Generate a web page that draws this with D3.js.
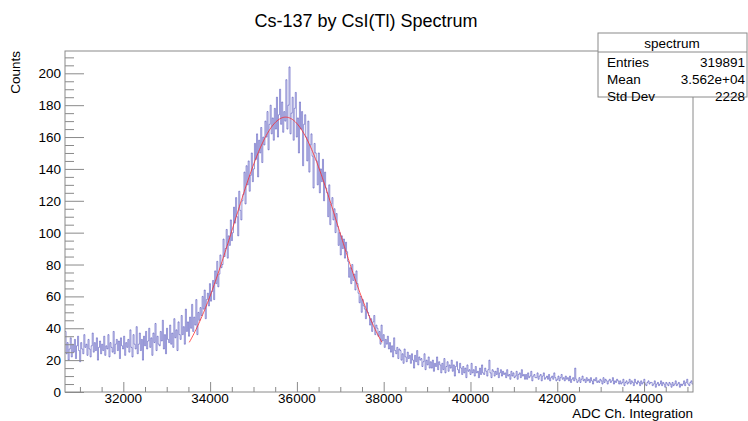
<!DOCTYPE html>
<html>
<head>
<meta charset="utf-8">
<script src="https://cdnjs.cloudflare.com/ajax/libs/d3/7.8.5/d3.min.js"></script>
<style>
	body { margin:0; background:#fff; }
	text { font-family: "Liberation Sans", Arial, sans-serif; fill:#000; }
</style>
</head>
<body>
<div id="chart"></div>
<script>
// histogram range (ADC channels) and bin contents
var xRange = [30656, 45128];
var counts = [
	38, 24, 31, 20, 27, 34, 22, 30, 25, 33,
	21, 29, 35, 26, 19, 31, 27, 24, 36, 28,
	30, 23, 33, 27, 22, 29, 37, 25, 31, 26,
	34, 20, 28, 32, 24, 30, 26, 35, 23, 29,
	27, 36, 22, 31, 28, 25, 38, 24, 30, 33,
	26, 32, 21, 34, 29, 27, 35, 23, 31, 28,
	33, 25, 39, 28, 22, 36, 30, 27, 41, 24,
	30, 37, 26, 33, 20, 35, 29, 38, 27, 32,
	40, 28, 34, 23, 37, 31, 43, 26, 35, 30,
	29, 38, 32, 45, 27, 36, 24, 40, 33, 31,
	42, 30, 37, 28, 46, 34, 39, 26, 44, 36,
	33, 48, 36, 41, 30, 52, 38, 44, 35, 47,
	40, 55, 38, 47, 42, 58, 36, 50, 45, 53,
	48, 60, 52, 64, 46, 58, 62, 54, 68, 57,
	63, 70, 58, 76, 68, 82, 66, 74, 86, 78,
	80, 96, 85, 90, 102, 84, 98, 92, 108, 95,
	100, 116, 106, 122, 110, 98, 126, 114, 108, 120,
	124, 138, 118, 142, 130, 145, 126, 136, 150, 132,
	140, 156, 146, 162, 135, 158, 150, 166, 144, 160,
	155, 170, 160, 176, 152, 168, 180, 162, 172, 158,
	178, 165, 185, 160, 174, 190, 168, 182, 163, 176,
	170, 196, 165, 180, 204, 162, 175, 185, 158, 178,
	188, 160, 172, 150, 182, 165, 176, 142, 168, 174,
	160, 145, 170, 138, 155, 162, 148, 128, 156, 150,
	145, 130, 150, 125, 140, 132, 146, 120, 138, 128,
	125, 110, 130, 105, 118, 122, 108, 115, 100, 112,
	104, 92, 100, 86, 98, 90, 96, 84, 94, 88,
	82, 72, 78, 68, 80, 70, 74, 64, 76, 68,
	62, 56, 60, 50, 58, 54, 52, 46, 56, 50,
	48, 42, 46, 38, 44, 48, 36, 42, 40, 35,
	38, 30, 42, 32, 36, 28, 33, 30, 35, 27,
	31, 25, 29, 22, 34, 26, 24, 28, 21, 27,
	26, 20, 24, 18, 27, 22, 19, 25, 21, 23,
	18, 24, 20, 15, 23, 19, 26, 17, 22, 20,
	21, 16, 19, 24, 14, 20, 17, 22, 15, 19,
	15, 20, 13, 18, 16, 22, 14, 19, 17, 12,
	18, 14, 21, 12, 16, 19, 13, 17, 15, 20,
	13, 17, 10, 16, 19, 14, 12, 18, 15, 11,
	16, 12, 15, 9, 17, 13, 14, 11, 18, 12,
	14, 10, 16, 12, 13, 9, 15, 11, 17, 12,
	11, 15, 13, 10, 14, 20, 12, 9, 14, 13,
	10, 13, 11, 15, 9, 12, 14, 10, 13, 11,
	12, 9, 14, 10, 11, 8, 13, 10, 12, 9,
	10, 13, 8, 11, 12, 9, 14, 10, 11, 8,
	11, 8, 12, 9, 10, 13, 7, 10, 11, 9,
	9, 12, 8, 10, 11, 7, 10, 12, 8, 9,
	10, 8, 11, 7, 9, 10, 8, 12, 9, 7,
	8, 10, 7, 9, 11, 8, 9, 7, 10, 8,
	9, 7, 10, 6, 8, 9, 7, 15, 8, 6,
	7, 9, 6, 8, 10, 7, 8, 6, 9, 7,
	8, 6, 9, 7, 5, 8, 7, 9, 6, 7,
	6, 8, 7, 5, 9, 6, 8, 7, 5, 7,
	8, 6, 7, 9, 5, 7, 6, 8, 7, 5,
	7, 5, 6, 8, 4, 6, 7, 5, 6, 8,
	5, 7, 6, 4, 8, 6, 5, 7, 6, 4,
	7, 5, 6, 8, 5, 4, 6, 7, 5, 6,
	6, 4, 5, 7, 3, 5, 6, 4, 5, 7,
	4, 6, 5, 3, 6, 5, 4, 6, 5, 3,
	6, 4, 5, 7, 4, 5, 6, 3, 5, 4,
	5, 7, 4, 6, 8, 5, 4, 6, 7, 5
];
// gaussian fit: constant, mean, sigma, fit range
var fitPars = [172.5, 35740, 1200];
var fitRange = [33520, 37960];
var xTicks = [32000, 34000, 36000, 38000, 40000, 42000, 44000];
var yTicks = [0, 20, 40, 60, 80, 100, 120, 140, 160, 180, 200];
var statNames = ["Entries", "Mean", "Std Dev"];
var statValues = ["319891", "3.562e+04", "2228"];

var width = 748, height = 421;
var frame = {left:65, right:693, top:51, bottom:392};

var svg = d3.select("#chart").append("svg")
	.attr("width", width)
	.attr("height", height)

var x = d3.scaleLinear().domain(xRange).range([frame.left, frame.right]);
var y = d3.scaleLinear().domain([0, 214]).range([frame.bottom, frame.top]);

var binW = (xRange[1] - xRange[0]) / counts.length;

// histogram drawn as a step outline
var pts = [];
counts.forEach(function(c, i){
	pts.push([xRange[0] + i*binW, c]);
	pts.push([xRange[0] + (i+1)*binW, c]);
});
var histLine = d3.line()
	.x(function(d){ return x(d[0]); })
	.y(function(d){ return y(d[1]); });

svg.append("defs").append("clipPath").attr("id", "clip")
	.append("rect")
	.attr("x", frame.left).attr("y", frame.top)
	.attr("width", frame.right - frame.left).attr("height", frame.bottom - frame.top);

svg.append("path")
	.datum(pts)
	.attr("clip-path", "url(#clip)")
	.attr("d", histLine)
	.attr("fill", "none")
	.attr("stroke", "#3030b0")
	.attr("stroke-opacity", 0.5)
	.attr("stroke-width", 1);

// fit curve
var fitPts = d3.range(0, 201).map(function(k){
	var xv = fitRange[0] + (fitRange[1] - fitRange[0]) * k / 200;
	var dx = (xv - fitPars[1]) / fitPars[2];
	return [xv, fitPars[0] * Math.exp(-0.5 * dx * dx)];
});
svg.append("path")
	.datum(fitPts)
	.attr("d", histLine)
	.attr("fill", "none")
	.attr("stroke", "#ff2020")
	.attr("stroke-opacity", 0.75)
	.attr("stroke-width", 1);

// frame
svg.append("rect")
	.attr("x", frame.left).attr("y", frame.top)
	.attr("width", frame.right - frame.left).attr("height", frame.bottom - frame.top)
	.attr("fill", "none")
	.attr("stroke", "#8a8a8a")
	.attr("stroke-width", 1);

// x axis: ticks point up
var xAxis = svg.append("g")
	.attr("transform", "translate(0," + frame.bottom + ")")
	.call(d3.axisBottom(x).tickValues(d3.range(31000, 45128, 500)).tickSize(-5).tickFormat(""));
xAxis.select(".domain").remove();
xAxis.selectAll("line").attr("stroke", "#8a8a8a");
xAxis.selectAll(".tick").filter(function(d){ return xTicks.indexOf(d) >= 0; })
	.select("line").attr("y2", -10);

svg.selectAll(".xlbl")
	.data(xTicks)
	.enter().append("text")
	.attr("class", "xlbl")
	.attr("x", function(d){ return x(d); })
	.attr("y", frame.bottom + 11)
	.attr("text-anchor", "middle")
	.style("font-size", "13.5px")
	.text(function(d){ return d; });

// y axis: ticks point right
var yAxis = svg.append("g")
	.attr("transform", "translate(" + frame.left + ",0)")
	.call(d3.axisLeft(y).tickValues(d3.range(0, 214, 5)).tickSize(-9).tickFormat(""));
yAxis.select(".domain").remove();
yAxis.selectAll("line").attr("stroke", "#8a8a8a");
yAxis.selectAll(".tick").filter(function(d){ return yTicks.indexOf(d) >= 0; })
	.select("line").attr("x2", 19);

svg.selectAll(".ylbl")
	.data(yTicks)
	.enter().append("text")
	.attr("class", "ylbl")
	.attr("x", frame.left - 4)
	.attr("y", function(d){ return y(d) + 5; })
	.attr("text-anchor", "end")
	.style("font-size", "13.5px")
	.text(function(d){ return d; });

// titles
svg.append("text")
	.attr("x", 366)
	.attr("y", 27)
	.attr("text-anchor", "middle")
	.style("font-size", "18px")
	.text("Cs-137 by CsI(Tl) Spectrum");

svg.append("text")
	.attr("x", frame.right)
	.attr("y", 418)
	.attr("text-anchor", "end")
	.style("font-size", "13.5px")
	.text("ADC Ch. Integration");

svg.append("text")
	.attr("transform", "translate(20," + frame.top + ") rotate(-90)")
	.attr("text-anchor", "end")
	.style("font-size", "13.5px")
	.text("Counts");

// stats box
var sb = svg.append("g").attr("transform", "translate(598,33)");
sb.append("rect")
	.attr("width", 149).attr("height", 64)
	.attr("fill", "#fff")
	.attr("stroke", "#8a8a8a");
sb.append("line")
	.attr("x1", 0).attr("x2", 149)
	.attr("y1", 19).attr("y2", 19)
	.attr("stroke", "#8a8a8a");
sb.append("text")
	.attr("x", 74).attr("y", 15)
	.attr("text-anchor", "middle")
	.style("font-size", "13.5px")
	.text("spectrum");
statNames.forEach(function(n, i){
	sb.append("text")
		.attr("x", 9).attr("y", 34 + i*17)
		.style("font-size", "13.5px")
		.text(n);
	sb.append("text")
		.attr("x", 147).attr("y", 34 + i*17)
		.attr("text-anchor", "end")
		.style("font-size", "13.5px")
		.text(statValues[i]);
});
</script>
</body>
</html>
